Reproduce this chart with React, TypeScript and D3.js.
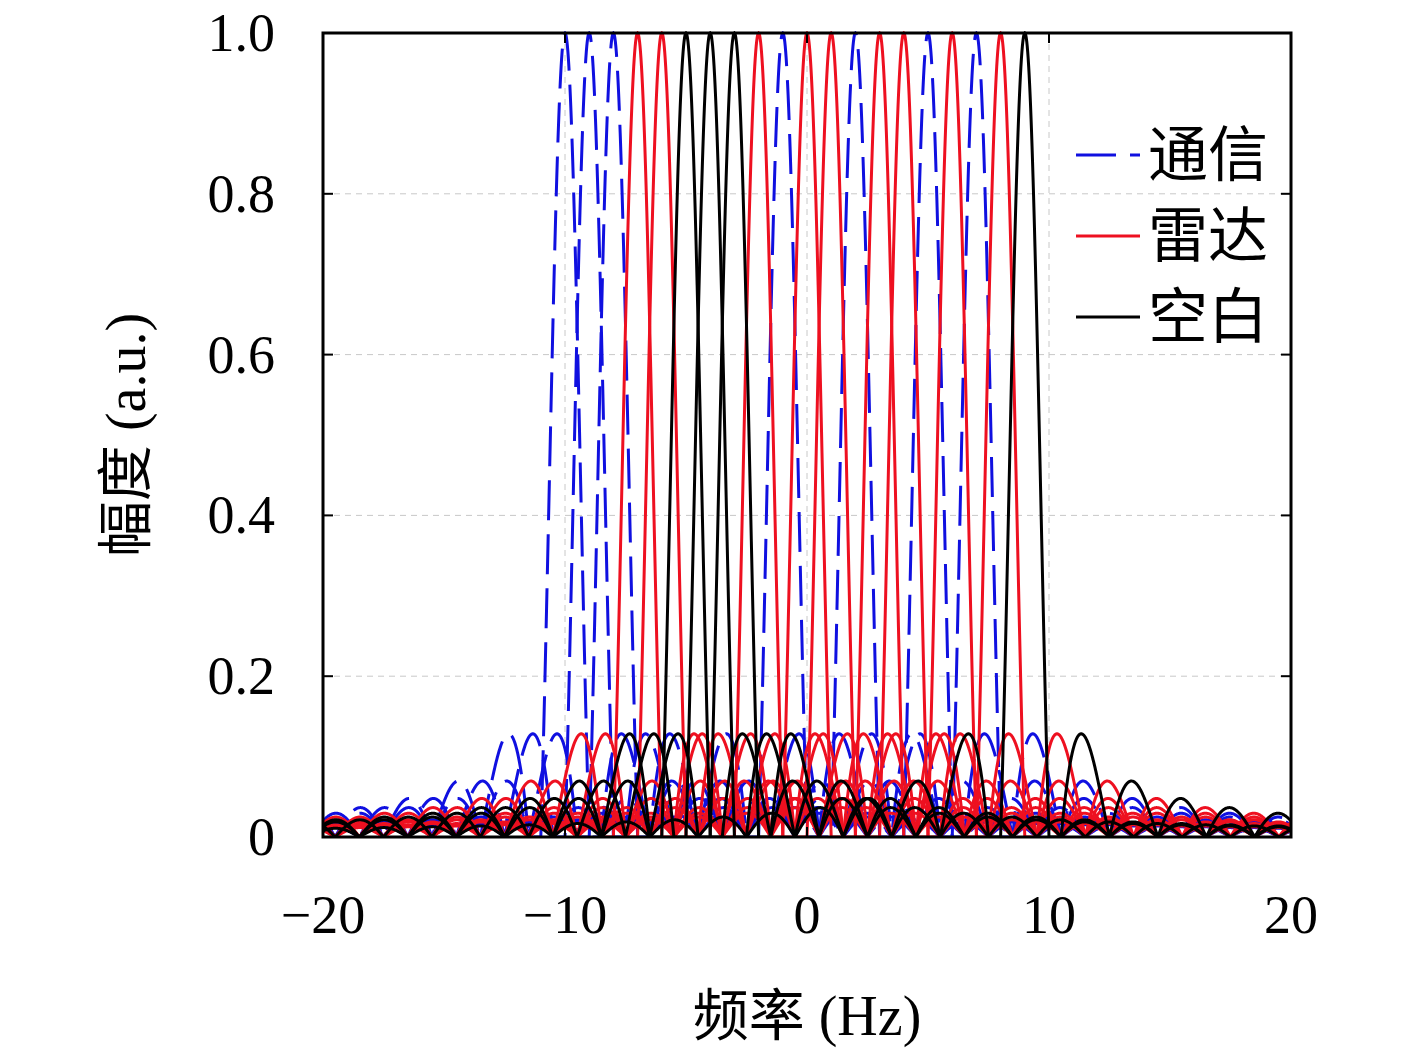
import React from 'react';
import * as d3 from 'd3';

// carrier centre frequencies (Hz) and their roles, read from the peaks
const carriers = [-10, -9, -8, -7, -6, -5, -4, -3, -2, -1, 0, 1, 2, 3, 4, 5, 6, 7, 8, 9];
const roles = ['B', 'B', 'B', 'R', 'R', 'K', 'K', 'K', 'R', 'B', 'R', 'R', 'B', 'R', 'R', 'B', 'R', 'B', 'R', 'K'];
const xTicks = [-20, -10, 0, 10, 20];
const yTicks = [0, 0.2, 0.4, 0.6, 0.8, 1.0];
const yTickLabels = ['0', '0.2', '0.4', '0.6', '0.8', '1.0'];
const legendItems = [
  { role: 'B', label: '通信' },
  { role: 'R', label: '雷达' },
  { role: 'K', label: '空白' },
];
const colors: Record<string, string> = { B: '#1010e0', R: '#ee1020', K: '#000000' };

// spectrum shape of one carrier, offset d from its centre
const shape = (d: number) => {
  const a = Math.abs(d);
  if (a < 1e-9) return 1;
  if (a <= 1) return Math.abs(Math.sin(Math.PI * a) / (Math.PI * a));
  if (a < 1.5) return 0;
  return (0.31 / a) * Math.abs(Math.sin((Math.PI * (a - 1.5)) / 2));
};

const freqs = d3.range(-20, 20.001, 0.02);

const App: React.FC = () => {
  const W = 1417, H = 1063;
  const m = { left: 323, right: 1291, top: 33, bottom: 837 };
  const x = d3.scaleLinear().domain([-20, 20]).range([m.left, m.right]);
  const y = d3.scaleLinear().domain([0, 1]).range([m.bottom, m.top]);
  const line = d3.line<number[]>().x(d => x(d[0])).y(d => y(d[1]));
  const order = ['B', 'R', 'K'];
  const serif = '"Liberation Serif", "DejaVu Serif", serif';
  const cjk = '"Noto Sans CJK SC", sans-serif';

  return (
    <svg width={W} height={H} style={{ position: 'absolute', left: 0, top: 0, background: '#fff' }}>
      <defs>
        <clipPath id="plot">
          <rect x={m.left} y={m.top - 2} width={m.right - m.left} height={m.bottom - m.top + 2} />
        </clipPath>
      </defs>
      {yTicks.slice(1, -1).map(t => (
        <line key={'gy' + t} x1={m.left} x2={m.right} y1={y(t)} y2={y(t)} stroke="#c8c8c8" strokeWidth={1} strokeDasharray="6,5" />
      ))}
      {xTicks.slice(1, -1).map(t => (
        <line key={'gx' + t} x1={x(t)} x2={x(t)} y1={m.top} y2={m.bottom} stroke="#c8c8c8" strokeWidth={1} strokeDasharray="6,5" />
      ))}
      <g clipPath="url(#plot)">
        {order.flatMap(r =>
          carriers.map((c, i) => roles[i] === r ? (
            <path key={r + c} d={line(freqs.map(f => [f, shape(f - c)])) || ''}
              fill="none" stroke={colors[r]} strokeWidth={3}
              strokeDasharray={r === 'B' ? '40,14' : undefined} />
          ) : null)
        )}
      </g>
      <rect x={m.left} y={m.top} width={m.right - m.left} height={m.bottom - m.top} fill="none" stroke="#000" strokeWidth={3} />
      {yTicks.map((t, i) => (
        <g key={'ty' + t}>
          <line x1={m.left} x2={m.left + 10} y1={y(t)} y2={y(t)} stroke="#000" strokeWidth={2} />
          <line x1={m.right} x2={m.right - 10} y1={y(t)} y2={y(t)} stroke="#000" strokeWidth={2} />
          <text x={m.left - 48} y={y(t) + 18} textAnchor="end" fontFamily={serif} fontSize={54}>{yTickLabels[i]}</text>
        </g>
      ))}
      {xTicks.map(t => (
        <g key={'tx' + t}>
          <line x1={x(t)} x2={x(t)} y1={m.bottom} y2={m.bottom - 10} stroke="#000" strokeWidth={2} />
          <line x1={x(t)} x2={x(t)} y1={m.top} y2={m.top + 10} stroke="#000" strokeWidth={2} />
          <text x={x(t)} y={933} textAnchor="middle" fontFamily={serif} fontSize={54}>{t < 0 ? '\u2212' + Math.abs(t) : t}</text>
        </g>
      ))}
      <text x={807} y={1035} textAnchor="middle" fontSize={56}>
        <tspan fontFamily={cjk}>频率</tspan><tspan fontFamily={serif}> (Hz)</tspan>
      </text>
      <text transform={`translate(145,435) rotate(-90)`} textAnchor="middle" fontSize={56}>
        <tspan fontFamily={cjk}>幅度</tspan><tspan fontFamily={serif}> (a.u.)</tspan>
      </text>
      {legendItems.map((it, i) => {
        const ly = 155 + i * 81;
        return (
          <g key={it.label}>
            <line x1={1076} x2={1140} y1={ly} y2={ly} stroke={colors[it.role]} strokeWidth={3}
              strokeDasharray={it.role === 'B' ? '40,14' : undefined} />
            <text x={1148} y={ly + 21} fontFamily={cjk} fontSize={60}>{it.label}</text>
          </g>
        );
      })}
    </svg>
  );
};

export default App;
